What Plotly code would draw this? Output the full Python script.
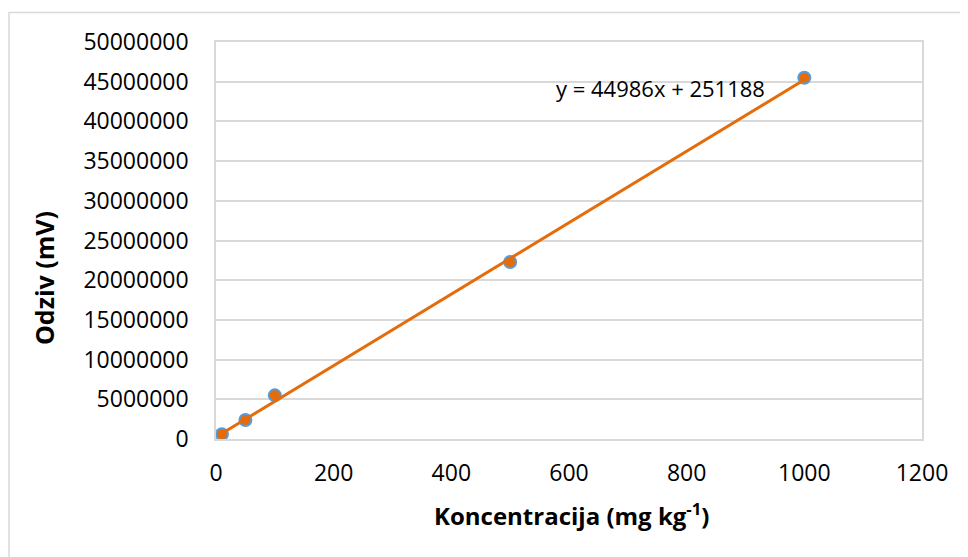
import plotly.graph_objects as go

# Data
concentration = [10, 50, 100, 500, 1000]
response = [600000, 2400000, 5500000, 22300000, 45500000]
slope = 44986
intercept = 251188
equation_label = "y = 44986x + 251188"
x_title = "Koncentracija (mg kg<sup>-1</sup>)"
y_title = "Odziv (mV)"

trend_x = [min(concentration), max(concentration)]
trend_y = [slope * v + intercept for v in trend_x]

FONT = "Open Sans"
ORANGE = "#E46C0A"
BLUE = "#5B9BD5"
GRID = "#D9D9D9"

fig = go.Figure()
fig.add_trace(go.Scatter(
    x=concentration, y=response, mode="markers",
    marker=dict(size=12, color=ORANGE, line=dict(color=BLUE, width=2)),
    showlegend=False,
))
fig.add_trace(go.Scatter(
    x=trend_x, y=trend_y, mode="lines",
    line=dict(color=ORANGE, width=3),
    showlegend=False,
))

fig.update_layout(
    width=968, height=557,
    margin=dict(l=208, r=54, t=34, b=126),
    paper_bgcolor="white", plot_bgcolor="white",
    font=dict(family=FONT, size=23, color="black"),
    xaxis=dict(
        range=[0, 1200], dtick=200, tick0=0, showgrid=False,
        showline=True, linecolor=GRID, linewidth=1.5, mirror=True,
        ticks="", ticklabelstandoff=13, zeroline=False,
        tickfont=dict(size=23),
    ),
    yaxis=dict(
        range=[0, 50000000], dtick=5000000, tick0=0, tickformat="d",
        showgrid=True, gridcolor=GRID, gridwidth=1.5,
        showline=True, linecolor=GRID, linewidth=1.5, mirror=True,
        ticks="", ticklabelstandoff=21, zeroline=False,
        tickfont=dict(size=23),
    ),
    shapes=[dict(
        type="rect", xref="paper", yref="paper",
        x0=-0.2932, x1=1.3, y0=-0.5, y1=1.0743,
        line=dict(color=GRID, width=1.5), layer="below",
    )],
    annotations=[
        dict(text=equation_label, xref="paper", yref="paper", x=0.630, y=0.884,
             showarrow=False, font=dict(size=22, family=FONT),
             xanchor="center", yanchor="middle"),
        dict(text="<b>" + x_title + "</b>", xref="paper", yref="paper",
             x=0.504, y=-0.189, xanchor="center", yanchor="middle", showarrow=False,
             font=dict(size=24, family=FONT)),
        dict(text="<b>" + y_title + "</b>", xref="paper", yref="paper",
             x=-0.2436, y=0.4055, xanchor="center", yanchor="middle", showarrow=False,
             textangle=-90, font=dict(size=25, family=FONT)),
    ],
)

fig.write_html("out.html")
